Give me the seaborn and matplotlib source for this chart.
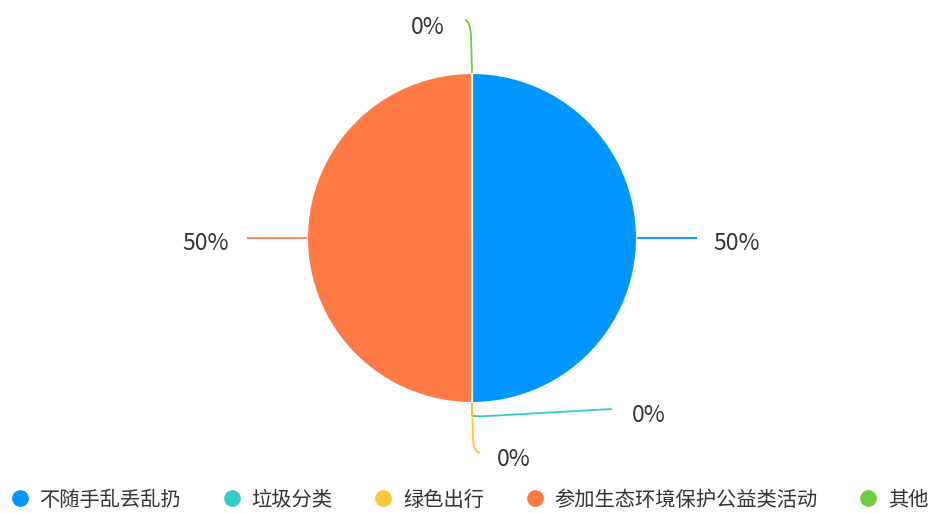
import matplotlib.pyplot as plt
import numpy as np
import seaborn as sns
from matplotlib.lines import Line2D
from matplotlib.path import Path
from matplotlib.patches import PathPatch

categories = ['不随手乱丢乱扔', '垃圾分类', '绿色出行', '参加生态环境保护公益类活动', '其他']
values = [50, 0, 0, 50, 0]
colors = ['#0096FF', '#36CBCB', '#FCC53A', '#FF7B46', '#6DCD3C']

sns.set_theme(style='white')
plt.rcParams['font.family'] = ['Noto Sans CJK SC', 'DejaVu Sans']

W, H = 936, 513
fig = plt.figure(figsize=(W / 100, H / 100), dpi=100)
ax = fig.add_axes([0, 0, 1, 1])

cx, cy, r = 472, H - 238, 165
palette = sns.color_palette(colors)
wedges, _ = ax.pie(values, colors=palette, startangle=90, counterclock=False,
                   center=(cx, cy), radius=r, frame=True,
                   wedgeprops=dict(edgecolor='white', linewidth=1.5))
ax.set_xlim(0, W)
ax.set_ylim(0, H)
ax.set_aspect('equal')
ax.axis('off')

# label line layout per slice: offsets from the slice edge point (pixels, y up)
layouts = [
    dict(path=[('L', 35, 0), ('L', 60, 0)], text=(16, -6), ha='left'),
    dict(path=[('L', 0, -12), ('C', 1, -14), ('C', 16, -13), ('L', 140, -6)], text=(20, -6), ha='left'),
    dict(path=[('L', 1, -37), ('C', 2, -49), ('C', 8, -50)], text=(17, -7), ha='left'),
    dict(path=[('L', -35, 0), ('L', -60, 0)], text=(-18, -6), ha='right'),
    dict(path=[('L', -1, 38), ('C', -2, 52), ('C', -7, 53)], text=(-20, -7), ha='right'),
]

total = sum(values)
for w, v, col, lay in zip(wedges, values, colors, layouts):
    mid = np.deg2rad((w.theta1 + w.theta2) / 2)
    sx, sy = cx + r * np.cos(mid), cy + r * np.sin(mid)
    verts = [(sx, sy)]
    codes = [Path.MOVETO]
    for kind, dx, dy in lay['path']:
        verts.append((sx + dx, sy + dy))
        codes.append(Path.LINETO if kind == 'L' else Path.CURVE3)
    ax.add_patch(PathPatch(Path(verts, codes), fill=False, edgecolor=col, lw=1.3))
    ex, ey = verts[-1]
    ax.text(ex + lay['text'][0], ey + lay['text'][1], f'{round(v / total * 100)}%',
            ha=lay['ha'], va='center', fontsize=16.5, color='#333333')

handles = [Line2D([], [], marker='o', linestyle='none', markersize=11,
                  markerfacecolor=c, markeredgecolor=c) for c in colors]
fig.legend(handles, categories, loc='center', bbox_to_anchor=(0.5025, 13 / H),
           ncol=5, frameon=False, fontsize=14.6, labelcolor='#333333',
           handlelength=0.75, handletextpad=0.6, columnspacing=2.12,
           borderaxespad=0, borderpad=0)

fig.savefig('out.png', dpi=100)
